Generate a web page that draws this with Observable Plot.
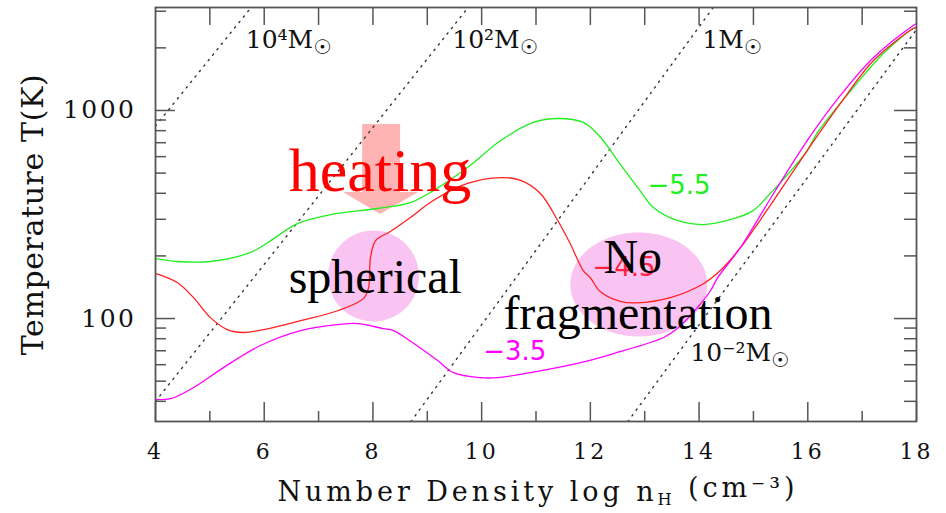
<!DOCTYPE html>
<html><head><meta charset="utf-8">
<script src="https://cdn.jsdelivr.net/npm/d3@7"></script>
<script src="https://cdn.jsdelivr.net/npm/@observablehq/plot@0.6"></script>
<style>body{margin:0;background:#fff}</style>
</head><body><div id="chart"></div>
<script>
// ---- data (log n_H, T[K]) ----
const greenN = [4.00, 4.40, 5.01, 5.75, 6.12, 6.61, 7.22, 8.08, 8.69, 9.11, 9.74, 10.35, 10.95, 11.40, 11.87, 12.19, 12.50, 12.87, 13.16, 13.60, 14.08, 14.71, 15.00, 15.31, 15.50, 15.99, 16.18, 16.84, 17.39, 17.94, 18.00];
const greenT = [194, 188, 188, 208, 237, 286, 316, 338, 361, 412, 532, 717, 876, 915, 876, 742, 575, 427, 342, 296, 283, 306, 331, 399, 451, 642, 784, 1290, 1879, 2477, 2500];
const redN = [4.00, 4.40, 4.70, 5.01, 5.32, 5.62, 5.99, 6.67, 7.35, 7.83, 7.92, 7.955, 8.05, 8.32, 8.69, 9.11, 9.74, 10.35, 10.72, 11.08, 11.40, 11.63, 11.87, 12.00, 12.19, 12.55, 12.85, 13.47, 14.08, 14.39, 14.76, 15.37, 15.99, 16.60, 17.21, 17.94, 18.00];
const redT = [165, 149, 126, 101, 88.5, 85.7, 88.5, 97.7, 109, 125, 141, 196, 237, 262, 306, 369, 446, 476, 461, 399, 296, 229, 170, 157, 134, 121, 119, 126, 147, 170, 219, 369, 642, 1081, 1739, 2477, 2510];
const magentaN = [4.00, 4.28, 4.70, 5.25, 5.93, 6.67, 7.35, 7.72, 8.19, 8.38, 8.70, 9.19, 9.48, 9.98, 10.29, 10.90, 11.82, 12.43, 13.35, 13.60, 13.97, 14.21, 14.34, 14.76, 15.37, 15.99, 16.60, 17.21, 17.94, 18.00];
const magentaT = [40.8, 41.2, 46.6, 58.1, 74.2, 87.5, 93.5, 94.6, 89.5, 87.5, 77.5, 62.8, 55.0, 52.0, 52.0, 55.0, 61.4, 67.9, 81.1, 89.5, 113, 136, 157, 219, 399, 717, 1181, 1798, 2563, 2620];

// Jeans-mass lines (endpoints)
const massLineN = [[4.00, 5.76], [4.00, 9.74], [8.70, 14.25], [12.69, 18.00]];
const massLineT = [[842, 3130], [40, 3100], [32, 3100], [32, 2450]];
const massText = ["10⁴M☉", "10²M☉", "1M☉", "10⁻²M☉"];
const massTextN = [5.66, 9.46, 14.06, 13.84];
const massTextT = [1986, 1986, 1986, 62.8];

const valueText = ["−5.5", "−4.5", "−3.5"];
const valueN = [13.05, 12.04, 10.03];
const valueT = [399, 161, 63.5];

const noteText = ["heating", "spherical", "No", "fragmentation"];
const noteN = [6.45, 6.45, 12.24, 10.40];
const noteT = [412, 132, 166, 89.5];

// shaded shapes
const circleN = [8.01], circleT = [160];
const ellipseN = [12.89], ellipseT = [145.7];
const shaftN = [7.81, 8.51], shaftT = [403.5, 856];
const headN = [7.46, 8.14, 8.84], headTopT = [403.5, 403.5, 403.5], headTipT = [403.5, 316, 403.5];

// ticks
const xLabelTicks = [4, 6, 8, 10, 12, 14, 16, 18];
const xMinorTicks = [5, 7, 9, 11, 13, 15, 17];
const xTopTicks = [5, 6, 7, 8, 9, 10, 11, 12, 13, 14, 15, 16, 17];
const yLabelTicks = [100, 1000];
const yMinorTicks = [40, 50, 60, 70, 80, 90, 200, 300, 400, 500, 600, 700, 800, 900, 2000, 3000];

// ---- build tables ----
const series = (N, T) => N.map((n, i) => ({n, T: T[i]}));
const green = series(greenN, greenT), red = series(redN, redT), magenta = series(magentaN, magentaT);
const massLines = massLineN.map((N, i) => series(N, massLineT[i]));
const massLabels = massText.map((t, i) => ({t, n: massTextN[i], T: massTextT[i]}));
const valueColors = ["#22ee22", "#ff2244", "#ff00ff"];
const valueLabels = valueText.map((t, i) => ({t, n: valueN[i], T: valueT[i], c: valueColors[i]}));
const notes = noteText.map((t, i) => ({t, n: noteN[i], T: noteT[i]}));
const shaft = [{n1: shaftN[0], n2: shaftN[1], T1: shaftT[0], T2: shaftT[1]}];
const head = headN.map((n, i) => ({n, T1: headTopT[i], T2: headTipT[i]}));

const ellipseSymbol = {
  draw(context, size) {
    const rx = Math.sqrt(size / Math.PI), ry = rx * 0.76, k = 0.5523;
    context.moveTo(rx, 0);
    context.bezierCurveTo(rx, ry * k, rx * k, ry, 0, ry);
    context.bezierCurveTo(-rx * k, ry, -rx, ry * k, -rx, 0);
    context.bezierCurveTo(-rx, -ry * k, -rx * k, -ry, 0, -ry);
    context.bezierCurveTo(rx * k, -ry, rx, -ry * k, rx, 0);
    context.closePath();
  }
};

const pink = "#fac4f2", salmon = "#ffb3b3", axisGray = "#555";
const FW = 761, FH = 414;

const svg = Plot.plot({
  width: 946, height: 513,
  marginTop: 7, marginRight: 30, marginBottom: 92, marginLeft: 155,
  style: {fontFamily: "'DejaVu Serif', serif", fontSize: "23px", color: "#111", background: "#fff"},
  x: {domain: [4, 18]},
  y: {type: "log", domain: [32, 3126]},
  marks: [
    Plot.dot(series(circleN, circleT), {x: "n", y: "T", r: 45.5, fill: pink}),
    Plot.dot(series(ellipseN, ellipseT), {x: "n", y: "T", r: 68.5, symbol: ellipseSymbol, fill: pink}),
    Plot.rect(shaft, {x1: "n1", x2: "n2", y1: "T1", y2: "T2", fill: salmon}),
    Plot.areaY(head, {x: "n", y1: "T1", y2: "T2", fill: salmon}),
    ...massLines.map(l => Plot.line(l, {x: "n", y: "T", stroke: "#333", strokeWidth: 1.4, strokeDasharray: "1.4 5.6", clip: true})),
    Plot.line(green, {x: "n", y: "T", stroke: "#22ee22", strokeWidth: 1.3, curve: "catmull-rom"}),
    Plot.line(red, {x: "n", y: "T", stroke: "#ff2020", strokeWidth: 1.3, curve: "catmull-rom"}),
    Plot.line(magenta, {x: "n", y: "T", stroke: "#ff00ff", strokeWidth: 1.3, curve: "catmull-rom"}),
    Plot.text(valueLabels, {x: "n", y: "T", text: "t", textAnchor: "start", lineAnchor: "bottom",
      fontFamily: "'DejaVu Sans', sans-serif", fontSize: 26, fill: "c"}),
    Plot.text(notes, {x: "n", y: "T", text: "t", textAnchor: "start", lineAnchor: "bottom",
      fontFamily: "'Liberation Serif', 'Times New Roman', serif",
      fontSize: d => d.t === "heating" ? 62 : 48,
      fill: d => d.t === "heating" ? "#ff0000" : "#000"}),
    Plot.text(massLabels, {x: "n", y: "T", text: "t", textAnchor: "start", lineAnchor: "bottom", fontSize: 25, fill: "#111"}),
    // ticks (inward)
    Plot.ruleX(xLabelTicks, {stroke: axisGray, strokeWidth: 1.5, insetTop: FH - 19}),
    Plot.ruleX(xMinorTicks, {stroke: axisGray, strokeWidth: 1.5, insetTop: FH - 10}),
    Plot.ruleX(xTopTicks, {stroke: axisGray, strokeWidth: 1.5, insetBottom: FH - 18}),
    Plot.ruleY(yLabelTicks, {stroke: axisGray, strokeWidth: 1.5, insetRight: FW - 20}),
    Plot.ruleY(yMinorTicks, {stroke: axisGray, strokeWidth: 1.5, insetRight: FW - 11}),
    Plot.ruleY(yLabelTicks, {stroke: axisGray, strokeWidth: 1.5, insetLeft: FW - 22}),
    Plot.ruleY(yMinorTicks, {stroke: axisGray, strokeWidth: 1.5, insetLeft: FW - 12}),
    Plot.frame({stroke: axisGray, strokeWidth: 1.8}),
    Plot.axisX(xLabelTicks, {tickSize: 0, tickPadding: 22, fontSize: 22, label: null}),
    Plot.axisY(yLabelTicks, {tickSize: 0, tickPadding: 19, fontSize: 25, tickFormat: d => String(d), label: null}),
    Plot.text(["Temperature T(K)"], {frameAnchor: "left", textAnchor: "middle", dx: -122, rotate: -90, fontSize: 30, fill: "#111"}),
    Plot.text(["Number Density log n_H (cm⁻³)"], {frameAnchor: "bottom", textAnchor: "middle", dy: 79, lineAnchor: "bottom", fontSize: 27, fill: "#111"})
  ]
});

// rich-text touches: lowered sun symbol, subscript H, letter spacing
d3.select(svg).selectAll("text").each(function () {
  const t = this.textContent;
  const sel = d3.select(this);
  if (t.includes("☉")) {
    const a = t.split("☉")[0];
    this.textContent = "";
    sel.append("tspan").text(a);
    sel.append("tspan").attr("dy", "0.3em").attr("font-size", "0.8em").attr("font-family", "'DejaVu Sans'").text("☉");
  } else if (t.includes("_H")) {
    const [a, b] = t.split("_H");
    this.textContent = "";
    sel.append("tspan").text(a);
    sel.append("tspan").attr("dy", "0.3em").attr("font-size", "0.6em").text("H");
    sel.append("tspan").attr("dy", "-0.3em").text(b);
    sel.attr("textLength", 517).attr("lengthAdjust", "spacing");
  } else if (t === "Temperature T(K)") {
    sel.attr("letter-spacing", "0.6px");
  }
});
d3.select(svg).selectAll('g[aria-label="x-axis tick label"] text').attr("letter-spacing", "3px");
d3.select(svg).selectAll('g[aria-label="y-axis tick label"] text').attr("letter-spacing", "2.5px");

document.getElementById("chart").appendChild(svg);
</script>
</body></html>
